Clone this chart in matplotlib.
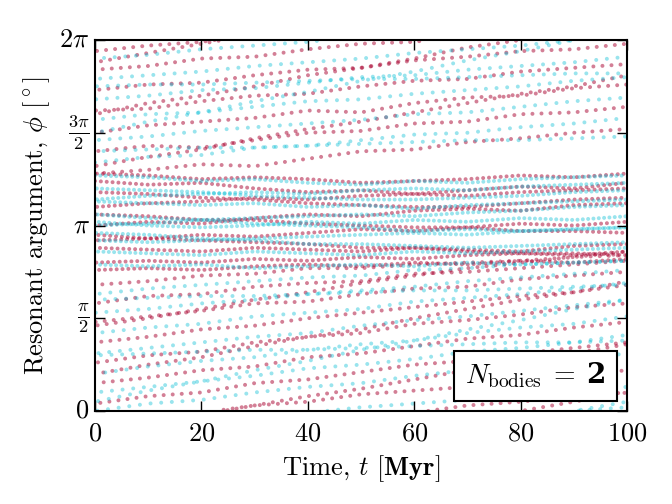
import numpy as np
import matplotlib
matplotlib.use('Agg')
import matplotlib.pyplot as plt
from matplotlib.offsetbox import AnchoredOffsetbox, TextArea, HPacker

# anchor times of the tracks [Myr]
t_anchor = [0, 10, 20, 30, 40, 50, 60, 70, 80, 90, 100]

# phi / pi along each track at the anchor times
# (values above 2 wrap round to the bottom)
red_sparse = [
    [1.28, 1.30, 1.33, 1.32, 1.36, 1.40, 1.41, 1.45, 1.47, 1.50, 1.52],
    [1.40, 1.43, 1.42, 1.46, 1.50, 1.51, 1.55, 1.56, 1.60, 1.61, 1.64],
    [1.50, 1.54, 1.56, 1.58, 1.62, 1.61, 1.66, 1.69, 1.70, 1.74, 1.76],
    [1.62, 1.63, 1.67, 1.70, 1.71, 1.75, 1.78, 1.79, 1.83, 1.85, 1.87],
    [1.73, 1.76, 1.77, 1.81, 1.84, 1.85, 1.89, 1.91, 1.94, 1.95, 1.98],
    [1.84, 1.86, 1.90, 1.91, 1.95, 1.98, 1.99, 2.03, 2.05, 2.08, 2.10],
    [1.94, 1.97, 1.99, 2.03, 2.05, 2.09, 2.11, 2.13, 2.17, 2.19, 2.22],
    [0.04, 0.08, 0.10, 0.15, 0.17, 0.21, 0.25, 0.27, 0.31, 0.34, 0.37],
    [0.15, 0.18, 0.22, 0.24, 0.29, 0.31, 0.35, 0.39, 0.41, 0.45, 0.48],
    [0.26, 0.30, 0.32, 0.37, 0.40, 0.42, 0.47, 0.49, 0.52, 0.56, 0.58],
    [0.37, 0.40, 0.44, 0.46, 0.50, 0.53, 0.56, 0.59, 0.62, 0.64, 0.68],
    [0.48, 0.51, 0.54, 0.58, 0.59, 0.63, 0.66, 0.67, 0.71, 0.73, 0.75],
    [0.58, 0.62, 0.63, 0.67, 0.69, 0.70, 0.74, 0.75, 0.77, 0.79, 0.81],
    [0.68, 0.70, 0.73, 0.74, 0.77, 0.77, 0.79, 0.80, 0.81, 0.83, 0.84],
    [1.32, 1.37, 1.41, 1.47, 1.52, 1.56, 1.61, 1.66, 1.71, 1.75, 1.81],
    [1.60, 1.66, 1.70, 1.75, 1.81, 1.85, 1.90, 1.96, 2.00, 2.05, 2.10],
    [0.20, 0.25, 0.29, 0.35, 0.40, 0.44, 0.50, 0.55, 0.60, 0.64, 0.70],
    [0.46, 0.50, 0.55, 0.60, 0.64, 0.69, 0.73, 0.77, 0.80, 0.83, 0.86],
    [1.88, 1.93, 1.98, 2.03, 2.08, 2.12, 2.17, 2.22, 2.26, 2.31, 2.36],
]
red_band = [
    [1.24, 1.22, 1.23, 1.20, 1.18, 1.19, 1.17, 1.19, 1.21, 1.20, 1.23],
    [1.10, 1.12, 1.13, 1.15, 1.14, 1.16, 1.17, 1.16, 1.18, 1.19, 1.20],
    [1.00, 1.02, 1.01, 1.04, 1.06, 1.05, 1.08, 1.09, 1.08, 1.11, 1.12],
    [1.06, 1.05, 1.03, 1.03, 1.01, 1.00, 0.99, 0.99, 0.97, 0.97, 0.96],
    [0.92, 0.93, 0.95, 0.94, 0.96, 0.98, 0.97, 0.99, 1.01, 1.00, 1.02],
    [0.88, 0.87, 0.86, 0.88, 0.87, 0.86, 0.88, 0.87, 0.86, 0.89, 0.90],
    [0.80, 0.81, 0.80, 0.82, 0.81, 0.83, 0.82, 0.84, 0.85, 0.84, 0.86],
    [0.95, 0.93, 0.92, 0.91, 0.90, 0.88, 0.88, 0.86, 0.85, 0.85, 0.84],
    [1.18, 1.17, 1.15, 1.14, 1.12, 1.11, 1.10, 1.10, 1.12, 1.14, 1.15],
    [1.28, 1.27, 1.25, 1.26, 1.25, 1.23, 1.24, 1.25, 1.27, 1.26, 1.28],
    [0.76, 0.77, 0.76, 0.78, 0.79, 0.78, 0.80, 0.79, 0.81, 0.80, 0.82],
]
cyan_sparse = [
    [1.34, 1.37, 1.38, 1.42, 1.43, 1.46, 1.49, 1.50, 1.53, 1.55, 1.58],
    [1.46, 1.48, 1.51, 1.53, 1.55, 1.57, 1.60, 1.61, 1.64, 1.67, 1.69],
    [1.57, 1.60, 1.61, 1.64, 1.67, 1.68, 1.71, 1.73, 1.75, 1.78, 1.80],
    [1.68, 1.70, 1.73, 1.74, 1.77, 1.80, 1.81, 1.84, 1.86, 1.88, 1.91],
    [1.79, 1.81, 1.83, 1.86, 1.88, 1.90, 1.93, 1.95, 1.97, 2.00, 2.02],
    [1.90, 1.92, 1.95, 1.97, 1.99, 2.02, 2.04, 2.06, 2.09, 2.11, 2.13],
    [0.00, 0.04, 0.06, 0.10, 0.13, 0.15, 0.19, 0.22, 0.24, 0.28, 0.31],
    [0.10, 0.13, 0.16, 0.19, 0.23, 0.25, 0.28, 0.32, 0.34, 0.37, 0.41],
    [0.20, 0.24, 0.27, 0.29, 0.33, 0.36, 0.38, 0.42, 0.45, 0.47, 0.51],
    [0.31, 0.34, 0.37, 0.40, 0.42, 0.46, 0.49, 0.51, 0.54, 0.57, 0.60],
    [0.42, 0.45, 0.47, 0.51, 0.53, 0.55, 0.59, 0.61, 0.63, 0.66, 0.69],
    [0.53, 0.55, 0.58, 0.60, 0.63, 0.65, 0.67, 0.70, 0.72, 0.74, 0.76],
    [0.63, 0.66, 0.68, 0.70, 0.72, 0.73, 0.76, 0.77, 0.79, 0.80, 0.81],
    [1.40, 1.41, 1.42, 1.42, 1.43, 1.44, 1.45, 1.46, 1.46, 1.47, 1.48],
    [1.75, 1.76, 1.76, 1.77, 1.78, 1.79, 1.79, 1.80, 1.81, 1.82, 1.82],
    [0.30, 0.31, 0.32, 0.33, 0.33, 0.34, 0.35, 0.36, 0.37, 0.37, 0.38],
    [0.60, 0.61, 0.62, 0.62, 0.63, 0.64, 0.65, 0.65, 0.66, 0.67, 0.68],
    [0.05, 0.11, 0.16, 0.22, 0.27, 0.33, 0.38, 0.44, 0.49, 0.55, 0.60],
    [1.50, 1.56, 1.61, 1.67, 1.72, 1.78, 1.83, 1.89, 1.94, 2.00, 2.05],
]
cyan_band = [
    [1.27, 1.26, 1.24, 1.25, 1.23, 1.22, 1.24, 1.23, 1.25, 1.26, 1.27],
    [1.14, 1.16, 1.17, 1.18, 1.17, 1.19, 1.20, 1.19, 1.21, 1.22, 1.23],
    [1.13, 1.12, 1.11, 1.12, 1.10, 1.11, 1.09, 1.11, 1.12, 1.13, 1.14],
    [1.00, 1.01, 1.03, 1.04, 1.05, 1.06, 1.05, 1.07, 1.08, 1.10, 1.11],
    [1.06, 1.04, 1.03, 1.01, 1.00, 0.99, 0.97, 0.98, 0.97, 0.98, 0.99],
    [0.92, 0.91, 0.92, 0.93, 0.94, 0.95, 0.96, 0.95, 0.97, 0.98, 0.99],
    [0.96, 0.95, 0.93, 0.92, 0.90, 0.90, 0.89, 0.88, 0.89, 0.90, 0.91],
    [0.86, 0.85, 0.84, 0.86, 0.85, 0.84, 0.86, 0.85, 0.86, 0.87, 0.88],
    [0.79, 0.78, 0.79, 0.77, 0.78, 0.79, 0.78, 0.80, 0.79, 0.80, 0.81],
    [1.20, 1.19, 1.18, 1.16, 1.15, 1.14, 1.14, 1.15, 1.16, 1.18, 1.19],
    [1.02, 1.00, 0.99, 1.00, 1.02, 1.01, 1.03, 1.02, 1.04, 1.03, 1.05],
]

# sampling interval of the dots along a track [Myr]
dt_sparse_red = 1.7
dt_band_red = 1.1
dt_sparse_cyan = 2.0
dt_band_cyan = 1.0

x_ticks = [0, 20, 40, 60, 80, 100]
y_ticks = [0, np.pi / 2, np.pi, 3 * np.pi / 2, 2 * np.pi]
y_ticklabels = [r'$0$', r'$\frac{\pi}{2}$', r'$\pi$', r'$\frac{3\pi}{2}$', r'$2\pi$']


def sample_tracks(tracks, dt):
    #dots along every track, shifted in time so the tracks don't line up
    ts, ps = [], []
    for k, track in enumerate(tracks):
        t = np.arange(dt * ((k * 0.37) % 1), 100, dt)
        p = np.interp(t, t_anchor, track) % 2
        ts.append(t)
        ps.append(p * np.pi)
    return np.concatenate(ts), np.concatenate(ps)


plt.style.use('classic')
plt.rcParams['font.family'] = 'serif'
plt.rcParams['font.serif'] = ['cmr10']
plt.rcParams['mathtext.fontset'] = 'cm'
plt.rcParams['axes.formatter.use_mathtext'] = True
plt.rcParams['axes.unicode_minus'] = False

fig = plt.figure(figsize=(6.72, 5.04), dpi=100)
ax = fig.add_axes([0.1414, 0.1845, 0.7916, 0.7361])

red = '#a8002e'
cyan = '#00bcd4'

for tracks, dt, col, a in [(red_sparse, dt_sparse_red, red, 0.5),
                           (cyan_sparse, dt_sparse_cyan, cyan, 0.4),
                           (red_band, dt_band_red, red, 0.5),
                           (cyan_band, dt_band_cyan, cyan, 0.4)]:
    t, p = sample_tracks(tracks, dt)
    ax.scatter(t, p, s=8, c=col, alpha=a, edgecolors='none')

ax.set_xlim(0, 100)
ax.set_ylim(0, 2 * np.pi)
ax.set_xticks(x_ticks)
ax.set_yticks(y_ticks)
ax.set_yticklabels(y_ticklabels)
ax.tick_params(labelsize=19, length=7, width=1, direction='in', top=True, right=True)
ax.tick_params(axis='x', pad=8)
ax.minorticks_off()
for sp in ax.spines.values():
    sp.set_linewidth(1.5)

ax.set_xlabel(r'Time, $t$ [$\mathbf{Myr}$]', fontsize=19)
ax.set_ylabel(r'Resonant argument, $\phi$ [$^\circ$]', fontsize=19)

#label box: N_bodies = 2 with a bold 2
lab = TextArea(r'$N_{\rm bodies}\;=$', textprops=dict(size=20))
num = TextArea('2', textprops=dict(size=20, weight='bold', family='DejaVu Serif'))
pack = HPacker(children=[lab, num], align='baseline', pad=0, sep=8)
box = AnchoredOffsetbox(loc='lower right', child=pack, pad=0.35, borderpad=0.7,
                        frameon=True)
box.patch.set_linewidth(1.5)
box.patch.set_boxstyle('square,pad=0.2')
ax.add_artist(box)

fig.savefig('out.png', dpi=100)
